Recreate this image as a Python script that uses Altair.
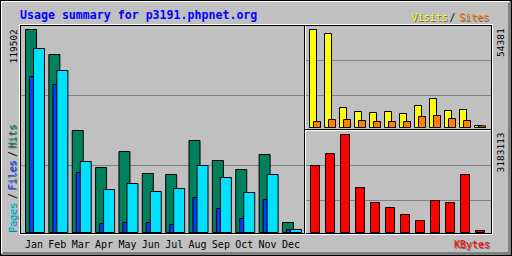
import altair as alt
import pandas as pd

MONTHS = ["Jan", "Feb", "Mar", "Apr", "May", "Jun", "Jul", "Aug", "Sep", "Oct", "Nov", "Dec"]
HITS = [119502, 104785, 60046, 38265, 47684, 34733, 34144, 54160, 42386, 37087, 45918, 5887]
FILES = [91834, 87125, 35321, 5298, 5887, 5887, 4709, 20604, 14128, 8242, 19427, 1766]
PAGES = [108317, 95366, 41797, 25313, 28846, 24136, 25902, 39442, 32378, 23547, 34144, 1766]
VISITS = [54381, 52161, 11098, 8878, 8324, 8878, 7769, 12208, 16092, 9433, 9988, 1110]
SITES = [3329, 4439, 4439, 3884, 3329, 3329, 3329, 6104, 6659, 4994, 3884, 900]
KBYTES = [2176211, 2565978, 3183113, 1461634, 974422, 812019, 584654, 389769, 1039384, 974422, 1883880, 64961]
TITLE = "Usage summary for p3191.phpnet.org"

df = pd.DataFrame({"month": MONTHS, "hits": HITS, "files": FILES, "pages": PAGES,
                   "visits": VISITS, "sites": SITES, "kbytes": KBYTES})
one = pd.DataFrame({"d": [0]})

MONO = "DejaVu Sans Mono"
SHADOW = "#666666"

layers = []


def rule(x, x2, y, y2, color):
    if y2 is None:
        enc = dict(x=alt.value(x), x2=alt.value(x2), y=alt.value(y))
    else:
        enc = dict(x=alt.value(x), y=alt.value(y), y2=alt.value(y2))
    return alt.Chart(one).mark_rule(color=color, strokeWidth=1).encode(**enc)


# outer bevel
for i in range(1, 4):
    layers.append(rule(i, 512, 255 - i + 0.5, None, "#808080"))
    layers.append(rule(511 - i + 0.5, None, i, 256, "#808080"))
layers.append(rule(1, 509, 1.5, None, "white"))
layers.append(rule(1.5, None, 1, 253, "white"))
layers.append(rule(0, 512, 0.5, None, "black"))
layers.append(rule(0.5, None, 0, 256, "black"))
layers.append(rule(0, 512, 255.5, None, "black"))
layers.append(rule(511.5, None, 0, 256, "black"))

# gridlines
for yy in (95.5, 165.5):
    layers.append(rule(21, 304, yy, None, "#808080"))
for yy in (60.5, 95.5):
    layers.append(rule(306, 491, yy, None, "#808080"))
for yy in (165.5, 200.5):
    layers.append(rule(306, 491, yy, None, "#808080"))

# scales
def main_x():
    return alt.X("month:N", sort=MONTHS, axis=None,
                 scale=alt.Scale(domain=MONTHS, range=[23.32, 303.64], paddingInner=0, paddingOuter=0))


def right_x():
    return alt.X("month:N", sort=MONTHS, axis=None,
                 scale=alt.Scale(domain=MONTHS, range=[307.5, 487.5], paddingInner=0, paddingOuter=0))


def bar(field, xenc, dom, rng, width, off, color):
    return alt.Chart(df).mark_bar(width=width, xOffset=off, fill=color, stroke="black",
                                  strokeWidth=1, opacity=1).encode(
        x=xenc,
        y=alt.Y(f"{field}:Q", axis=None,
                scale=alt.Scale(domain=[0, dom], range=rng, nice=False, zero=True)),
    )


main_max = max(HITS)
layers.append(bar("hits", main_x(), main_max, [232.5, 29.5], 11, -4, "#00805c"))
layers.append(bar("files", main_x(), main_max, [232.5, 29.5], 11, 0, "#0040ff"))
layers.append(bar("pages", main_x(), main_max, [232.5, 29.5], 11, 4, "#00e0ff"))

vis_max = max(VISITS)
layers.append(bar("visits", right_x(), vis_max, [127.5, 29.5], 7, -2, "#ffff00"))
layers.append(bar("sites", right_x(), vis_max, [127.5, 29.5], 7, 2, "#ff8000"))

kb_max = max(KBYTES)
layers.append(bar("kbytes", right_x(), kb_max, [232.5, 134.5], 9, 0, "#ff0000"))

# frames
layers.append(rule(19, 493, 24.5, None, "white"))
layers.append(rule(19, 493, 234.5, None, "white"))
layers.append(rule(19.5, None, 24, 235, "white"))
layers.append(rule(492.5, None, 24, 235, "white"))
layers.append(rule(20, 492, 25.5, None, "black"))
layers.append(rule(20, 492, 233.5, None, "black"))
layers.append(rule(20.5, None, 25, 234, "black"))
layers.append(rule(491.5, None, 25, 234, "black"))
layers.append(rule(304.5, None, 25, 234, "black"))
layers.append(rule(305.5, None, 26, 234, "white"))
layers.append(rule(305, 492, 129.5, None, "black"))
layers.append(rule(306, 491, 130.5, None, "white"))


def text(t, x, y, color, size=10, angle=0, bold=False, shadow=False):
    out = []
    kw = dict(text=t, font=MONO, fontSize=size, align="left", baseline="alphabetic", angle=angle)
    if bold:
        kw["fontWeight"] = "bold"
    if shadow:
        out.append(alt.Chart(one).mark_text(color=SHADOW, **kw).encode(
            x=alt.value(x + 1), y=alt.value(y + 1)))
    out.append(alt.Chart(one).mark_text(color=color, **kw).encode(x=alt.value(x), y=alt.value(y)))
    return out


layers += text(TITLE, 20, 18.5, "#0000ff", size=11.6, bold=True)
layers += text(str(main_max), 16.5, 63.5, "black", size=9.5, angle=270)
layers += text(str(vis_max), 504, 57, "black", size=9.5, angle=270)
layers += text(str(kb_max), 504, 172.5, "black", size=9.5, angle=270)

# left legend (rotated)
layers += text("Pages", 16, 232, "#00e0ff", angle=270, shadow=True)
layers += text("/", 16, 199, "black", angle=270)
layers += text("Files", 16, 190, "#0040ff", angle=270, shadow=True)
layers += text("/", 16, 157, "black", angle=270)
layers += text("Hits", 16, 148, "#00805c", angle=270, shadow=True)

# right legends
layers += text("Visits", 411.5, 20.5, "#ffff00", shadow=True)
layers += text("/", 449.5, 20.5, "black")
layers += text("Sites", 459, 20.5, "#ff8000", shadow=True)
layers += text("KBytes", 454, 247.5, "#ff0000", shadow=True)

# month labels
layers.append(alt.Chart(df).mark_text(font=MONO, fontSize=10, baseline="alphabetic",
                                      align="center", color="black", dx=-1).encode(
    x=main_x(), y=alt.value(247.5), text="month:N"))

chart = alt.layer(*layers).resolve_scale(x="independent", y="independent").properties(
    width=512, height=256, autosize=alt.AutoSizeParams(type="none"), padding=0
).configure(background="#c0c0c0").configure_view(strokeWidth=0)

chart.save("out.html", embed_options={"renderer": "svg", "actions": False})
